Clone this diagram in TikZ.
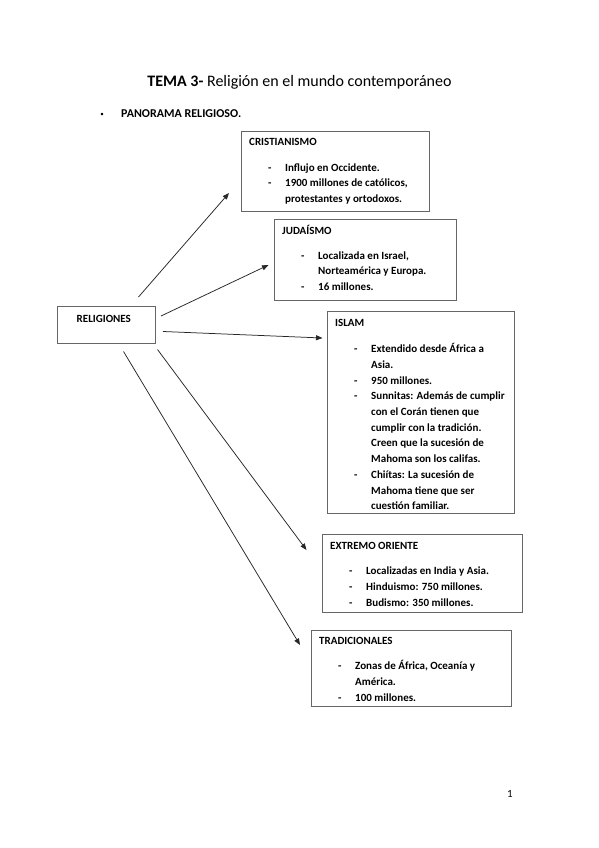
\documentclass[tikz,border=0pt]{standalone}
\usepackage{fontspec}
\setmainfont{Carlito}
\usetikzlibrary{arrows.meta}
\newcommand\dsh{\makebox[36pt][l]{\hspace{19pt}-}}
\tikzset{
  box/.style={draw=black!60, line width=0.8pt, inner sep=0pt, anchor=north west, fill=white},
  content/.style={anchor=base west, inner sep=0pt, font=\bfseries\fontsize{11}{15.7}\selectfont, align=left},
  arr/.style={draw=black!85, line width=0.75pt, -{Triangle[length=6.5pt,width=5pt]}}
}
\begin{document}
\begin{tikzpicture}[x=1pt,y=-1pt]
\useasboundingbox[fill=white] (0,0) rectangle (599,848);

% title
\node[anchor=base, inner sep=0pt, font=\fontsize{16}{18}\selectfont] (title) at (299.5,87) {\textbf{TEMA 3-} Religión en el mundo contemporáneo};
\node[anchor=base, inner sep=0pt, font=\fontsize{7}{9}\selectfont] (bul) at (102,117) {\textbullet};
\node[anchor=base west, inner sep=0pt, font=\bfseries\fontsize{12}{14}\selectfont] (pan) at (121,117.5) {PANORAMA RELIGIOSO.};

% religiones
\node[box, minimum width=98pt, minimum height=37pt] (rel) at (57,306) {};
\node[content] (reltxt) at (76.5,322) {RELIGIONES};

% cristianismo
\node[box, minimum width=188pt, minimum height=80pt] (cris) at (241,131) {};
\node[content] (cristxt) at (249,146) {\begin{tabular}[t]{@{}l@{}l@{}}
\multicolumn{2}{@{}l@{}}{CRISTIANISMO}\\[9.5pt]
\dsh & Influjo en Occidente.\\
\dsh & 1900 millones de católicos,\\
 & protestantes y ortodoxos.
\end{tabular}};

% judaismo
\node[box, minimum width=182pt, minimum height=81pt] (jud) at (274,219) {};
\node[content] (judtxt) at (282,234) {\begin{tabular}[t]{@{}l@{}l@{}}
\multicolumn{2}{@{}l@{}}{JUDAÍSMO}\\[9.5pt]
\dsh & Localizada en Israel,\\
 & Norteamérica y Europa.\\
\dsh & 16 millones.
\end{tabular}};

% islam
\node[box, minimum width=187pt, minimum height=202pt] (isl) at (327,311) {};
\node[content] (isltxt) at (335,326.5) {\begin{tabular}[t]{@{}l@{}l@{}}
\multicolumn{2}{@{}l@{}}{ISLAM}\\[10.5pt]
\dsh & Extendido desde África a\\
 & Asia.\\
\dsh & 950 millones.\\
\dsh & Sunnitas: Además de cumplir\\
 & con el Corán tienen que\\
 & cumplir con la tradición.\\
 & Creen que la sucesión de\\
 & Mahoma son los califas.\\
\dsh & Chiítas: La sucesión de\\
 & Mahoma tiene que ser\\
 & cuestión familiar.
\end{tabular}};

% extremo oriente
\node[box, minimum width=200pt, minimum height=78pt] (eo) at (322,534) {};
\node[content] (eotxt) at (330,549.5) {\begin{tabular}[t]{@{}l@{}l@{}}
\multicolumn{2}{@{}l@{}}{EXTREMO ORIENTE}\\[9.5pt]
\dsh & Localizadas en India y Asia.\\
\dsh & Hinduismo: 750 millones.\\
\dsh & Budismo: 350 millones.
\end{tabular}};

% tradicionales
\node[box, minimum width=200pt, minimum height=76pt] (trad) at (311,630) {};
\node[content] (tradtxt) at (319,644) {\begin{tabular}[t]{@{}l@{}l@{}}
\multicolumn{2}{@{}l@{}}{TRADICIONALES}\\[10pt]
\dsh & Zonas de África, Oceanía y\\
 & América.\\
\dsh & 100 millones.
\end{tabular}};

% arrows
\coordinate (s1) at (138.5,297);
\coordinate (e1) at (229,193);
\coordinate (s2) at (161,316);
\coordinate (e2) at (268.5,265);
\coordinate (s3) at (163,331.5);
\coordinate (e3) at (322.5,338);
\coordinate (s4) at (157.5,349.5);
\coordinate (e4) at (306.5,550);
\coordinate (s5) at (123.5,351.5);
\coordinate (e5) at (300,645);
\draw[arr] (s1) -- (e1);
\draw[arr] (s2) -- (e2);
\draw[arr] (s3) -- (e3);
\draw[arr] (s4) -- (e4);
\draw[arr] (s5) -- (e5);

% page number
\node[anchor=base, inner sep=0pt, font=\fontsize{11}{13}\selectfont] (pg) at (510,797) {1};
\end{tikzpicture}
\end{document}
